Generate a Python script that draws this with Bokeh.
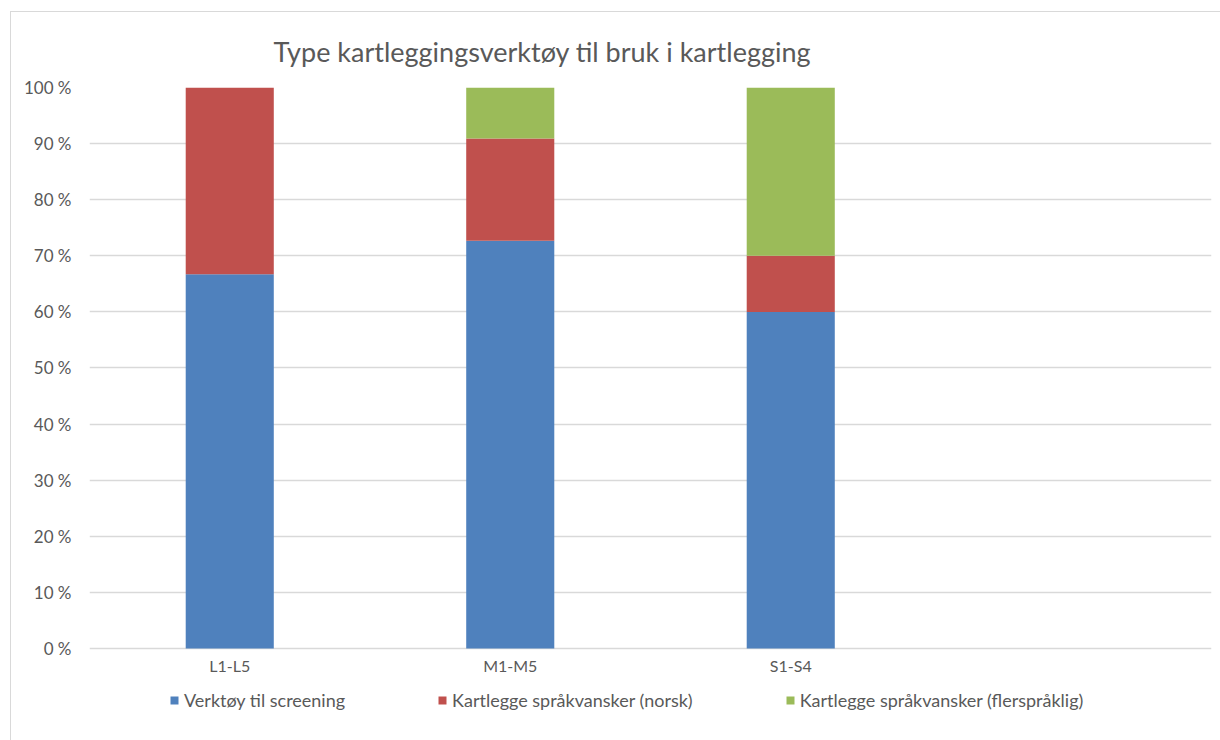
from bokeh.plotting import figure
from bokeh.models import (FactorRange, Range1d, Legend, LegendItem,
                          PrintfTickFormatter, FixedTicker)
from bokeh.embed import file_html
from bokeh.resources import INLINE

# ---- data ----
categories = ["L1-L5", "M1-M5", "S1-S4", " "]
screening = [66.7, 72.7, 60.0, 0.0]
norsk = [33.3, 18.2, 10.0, 0.0]
flersprakig = [0.0, 9.1, 30.0, 0.0]
series_names = ["Verktøy til screening", "Kartlegge språkvansker (norsk)",
                "Kartlegge språkvansker (flerspråklig)"]
y_ticks = [0, 10, 20, 30, 40, 50, 60, 70, 80, 90, 100]
title_text = "Type kartleggingsverktøy til bruk i kartlegging"

colors = ["#4F81BD", "#C0504D", "#9BBB59"]
text_color = "#595959"
grid_color = "#D9D9D9"
FONT = "Lato"

source = dict(cat=categories, s1=screening, s2=norsk, s3=flersprakig)

# y range extends below 0 so that the legend area lies inside the plotting frame
p = figure(width=1210, height=729, output_backend="svg", toolbar_location=None,
           x_range=FactorRange(factors=categories, range_padding=0, factor_padding=0),
           y_range=Range1d(-11.23, 100), tools="", title=title_text)
p.margin = (11, 0, 0, 10)
p.styles = {"border-left": "1px solid #D9D9D9", "border-top": "1px solid #D9D9D9",
            "box-sizing": "border-box"}
p.min_border_left = 78
p.min_border_right = 10
p.min_border_top = 75
p.min_border_bottom = 30
p.outline_line_color = None
p.background_fill_color = "white"
p.border_fill_color = "white"

rs = p.vbar_stack(["s1", "s2", "s3"], x="cat", width=0.314, color=colors,
                  line_color=None, source=source)

# title
p.title.align = "left"
p.title.offset = 184
p.title.standoff = 40
p.title.text_color = text_color
p.title.text_font = FONT
p.title.text_font_size = "27px"
p.title.text_font_style = "normal"

# axes
p.yaxis.ticker = FixedTicker(ticks=y_ticks)
p.yaxis.formatter = PrintfTickFormatter(format="%d %%")
for ax in (p.xaxis[0], p.yaxis[0]):
    ax.axis_line_color = None
    ax.major_tick_line_color = None
    ax.minor_tick_line_color = None
    ax.major_tick_out = 0
    ax.major_tick_in = 0
    ax.major_label_text_color = text_color
    ax.major_label_text_font = FONT
    ax.major_label_text_font_size = "16px"
p.yaxis.major_label_text_font_size = "17px"
p.yaxis.major_label_standoff = 18
p.xaxis.major_label_standoff = 8
p.xaxis.fixed_location = 0

p.xgrid.grid_line_color = None
p.ygrid.grid_line_color = grid_color
p.ygrid.grid_line_width = 1.5

# legend
legend = Legend(items=[LegendItem(label=n, renderers=[r]) for n, r in zip(series_names, rs)],
                orientation="horizontal", location=(80, 0),
                glyph_width=10, glyph_height=10, label_standoff=5, spacing=92,
                padding=0, margin=0, border_line_color=None,
                background_fill_alpha=0,
                label_text_color=text_color, label_text_font=FONT,
                label_text_font_size="18px")
p.add_layout(legend, "center")

open("out.html", "w").write(file_html(p, INLINE))
